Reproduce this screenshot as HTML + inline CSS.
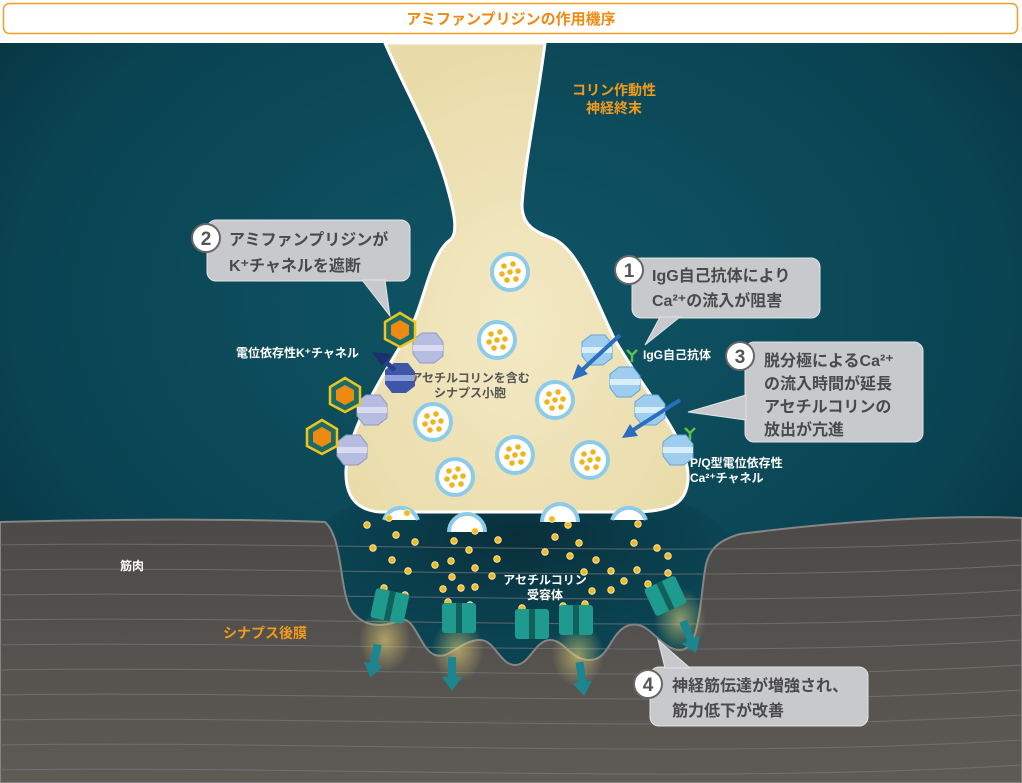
<!DOCTYPE html>
<html><head><meta charset="utf-8"><style>
html,body{margin:0;padding:0;background:#fff;width:1022px;height:783px;overflow:hidden;font-family:"Liberation Sans","Noto Sans CJK JP",sans-serif}
</style></head><body>
<svg width="1022" height="783" viewBox="0 0 1022 783" xmlns="http://www.w3.org/2000/svg" font-family="'Liberation Sans','Noto Sans CJK JP',sans-serif">
<defs>
<radialGradient id="bg" cx="0.5" cy="0.35" r="0.7">
<stop offset="0" stop-color="#0f5566"/><stop offset="0.7" stop-color="#0a4352"/><stop offset="1" stop-color="#062d38"/></radialGradient>
<linearGradient id="mus" x1="0" y1="0" x2="0" y2="1"><stop offset="0" stop-color="#4b4a48"/><stop offset="1" stop-color="#5e5a55"/></linearGradient>
<radialGradient id="cleftg" cx="0.5" cy="0.3" r="0.5"><stop offset="0" stop-color="#082832" stop-opacity="0.8"/><stop offset="1" stop-color="#082832" stop-opacity="0"/></radialGradient>
<radialGradient id="nerve" cx="0.5" cy="0.6" r="0.6"><stop offset="0" stop-color="#f3e9c4"/><stop offset="1" stop-color="#e9dcaa"/></radialGradient>
<radialGradient id="glow"><stop offset="0" stop-color="#f5e27a" stop-opacity="0.55"/><stop offset="1" stop-color="#f5e27a" stop-opacity="0"/></radialGradient>
<g id="ves"><circle r="18" fill="#fff" stroke="#8ccbea" stroke-width="4"/><g fill="#f0b41c"><circle cx="-6" cy="-6" r="2.8"/><circle cx="3" cy="-8" r="2.8"/><circle cx="8" cy="-1" r="2.8"/><circle cx="-8" cy="2" r="2.8"/><circle cx="0" cy="0" r="2.8"/><circle cx="-3" cy="8" r="2.8"/><circle cx="6" cy="7" r="2.8"/></g></g>
<g id="kch"><polygon points="-15,-8 -6,-15 8,-15 15,-6 15,8 6,15 -8,15 -15,6" fill="#b7bde0" stroke="#8f97c8" stroke-width="1"/><rect x="-15" y="-3" width="30" height="6" fill="#d9dcf0"/></g>
<g id="cach"><polygon points="-15,-8 -6,-15 8,-15 15,-6 15,8 6,15 -8,15 -15,6" fill="#9fcdf0" stroke="#5fa5d8" stroke-width="1"/><rect x="-15" y="-3" width="30" height="6" fill="#d8eefb"/></g>
<g id="drug"><polygon points="0,-17 15,-8 15,9 0,17 -15,9 -15,-8" fill="#1a6a6a" stroke="#f0c419" stroke-width="2.5"/><polygon points="0,-10 9,-5 9,5 0,10 -9,5 -9,-5" fill="#ee8a10"/></g>
<g id="rec"><rect x="-17" y="-14" width="34" height="30" rx="3" fill="#1f9a8f"/><rect x="-3" y="-14" width="6" height="30" fill="#12605c"/></g>
<g id="arr"><path d="M-4,-18 L4,-18 L4,2 L10,2 L0,16 L-10,2 L-4,2Z" fill="#1b8690"/></g>
</defs>
<rect x="3.5" y="3.5" width="1014" height="30" rx="6" fill="#fff" stroke="#f0a020" stroke-width="1.5"/>
<text x="511" y="24" text-anchor="middle" font-size="15" font-weight="bold" fill="#ee8a10">アミファンプリジンの作用機序</text>
<rect x="0" y="43" width="1022" height="740" fill="url(#bg)"/>
<ellipse cx="520" cy="580" rx="230" ry="110" fill="url(#cleftg)"/>
<path d="M0,522 C150,518 280,520 325,522 C345,540 338,600 355,615 C370,630 390,625 400,620 C415,615 420,650 435,655 C450,660 460,640 480,640 C495,640 500,665 515,665 C530,665 535,640 550,640 C565,640 570,660 590,660 C610,660 610,630 630,625 C650,620 660,650 680,650 C700,650 700,600 705,570 C708,548 720,540 740,534 C850,520 950,515 1022,518 L1022,783 L0,783Z" fill="url(#mus)" stroke="#858585" stroke-width="2"/>
<g stroke="#7a7a7a" stroke-width="1" fill="none" opacity="0.7">
<path d="M0,545 C300,540 700,560 1022,540"/><path d="M0,570 C300,565 700,585 1022,565"/><path d="M0,595 C300,590 700,610 1022,590"/><path d="M0,620 C300,615 700,635 1022,615"/><path d="M0,645 C300,640 700,660 1022,640"/><path d="M0,670 C300,665 700,685 1022,665"/><path d="M0,695 C300,690 700,710 1022,690"/><path d="M0,720 C300,715 700,735 1022,715"/><path d="M0,745 C300,740 700,760 1022,740"/><path d="M0,770 C300,765 700,785 1022,765"/>
</g>
<path d="M385,43 L545,43 C538,100 525,160 522,205 C522,225 535,232 552,238 C580,250 595,300 615,340 C650,400 690,440 688,480 C686,505 670,510 640,512 L380,512 C355,510 345,495 346,470 C348,430 380,380 410,330 C425,300 430,255 450,240 C458,234 455,215 448,190 C435,140 405,90 385,43Z" fill="url(#nerve)" stroke="#fff" stroke-width="3"/>
<use href="#ves" x="510" y="272"/><use href="#ves" x="497" y="340"/><use href="#ves" x="555" y="400"/><use href="#ves" x="433" y="422"/><use href="#ves" x="515" y="455"/><use href="#ves" x="590" y="460"/><use href="#ves" x="455" y="477"/>
<g fill="#fff" stroke="#8ccbea" stroke-width="4"><path d="M384,520 A18,18 0 0,1 418,520"/><path d="M449,532 A18,18 0 0,1 485,532"/><path d="M542,522 A18,18 0 0,1 578,522"/><path d="M612,520 A18,18 0 0,1 646,520"/></g>
<use href="#kch" x="428" y="348"/><use href="#kch" x="372" y="410"/><use href="#kch" x="352" y="450"/>
<g transform="translate(400,378)"><polygon points="-15,-8 -6,-15 8,-15 15,-6 15,8 6,15 -8,15 -15,6" fill="#3e56a8"/><rect x="-15" y="-3" width="30" height="6" fill="#8fa2dc"/></g>
<path d="M395,370 L384,361" stroke="#2a3e8a" stroke-width="5"/><path d="M372,352 L392,354 L382,366Z" fill="#1e2f70"/>
<use href="#drug" x="400" y="330"/><use href="#drug" x="345" y="395"/><use href="#drug" x="322" y="437"/>
<use href="#cach" x="597" y="350"/><use href="#cach" x="625" y="382"/><use href="#cach" x="650" y="410"/><use href="#cach" x="678" y="450"/>
<path d="M620,335 L580,372" stroke="#2a6ec0" stroke-width="4"/><path d="M572,380 L578,364 L588,374Z" fill="#2a6ec0"/>
<path d="M680,400 L630,432" stroke="#2a6ec0" stroke-width="4"/><path d="M622,438 L630,424 L638,436Z" fill="#2a6ec0"/>
<g stroke="#5bc04a" stroke-width="2.5" fill="none"><path d="M632,362 L632,355 M632,355 L627,350 M632,355 L637,350"/><path d="M690,440 L690,433 M690,433 L685,428 M690,433 L695,428"/></g>
<g fill="#f4b822" stroke="#fff6c0" stroke-width="0.8">
<circle cx="367" cy="525" r="3.3"/><circle cx="389" cy="518" r="3.3"/><circle cx="407" cy="513" r="3.3"/><circle cx="373" cy="548" r="3.3"/><circle cx="396" cy="535" r="3.3"/><circle cx="415" cy="542" r="3.3"/><circle cx="392" cy="560" r="3.3"/><circle cx="408" cy="571" r="3.3"/><circle cx="454" cy="541" r="3.3"/><circle cx="469" cy="550" r="3.3"/><circle cx="435" cy="565" r="3.3"/><circle cx="451" cy="561" r="3.3"/><circle cx="475" cy="568" r="3.3"/><circle cx="452" cy="577" r="3.3"/><circle cx="443" cy="589" r="3.3"/><circle cx="461" cy="588" r="3.3"/><circle cx="475" cy="587" r="3.3"/><circle cx="497" cy="559" r="3.3"/><circle cx="492" cy="576" r="3.3"/><circle cx="475" cy="531" r="3.3"/><circle cx="552" cy="519" r="3.3"/><circle cx="568" cy="525" r="3.3"/><circle cx="555" cy="537" r="3.3"/><circle cx="579" cy="543" r="3.3"/><circle cx="545" cy="552" r="3.3"/><circle cx="570" cy="556" r="3.3"/><circle cx="596" cy="560" r="3.3"/><circle cx="584" cy="572" r="3.3"/><circle cx="592" cy="591" r="3.3"/><circle cx="611" cy="571" r="3.3"/><circle cx="611" cy="590" r="3.3"/><circle cx="624" cy="581" r="3.3"/><circle cx="637" cy="570" r="3.3"/><circle cx="638" cy="524" r="3.3"/><circle cx="634" cy="543" r="3.3"/><circle cx="657" cy="548" r="3.3"/><circle cx="668" cy="556" r="3.3"/><circle cx="384" cy="588" r="3.3"/><circle cx="405" cy="595" r="3.3"/><circle cx="448" cy="602" r="3.3"/><circle cx="470" cy="605" r="3.3"/><circle cx="522" cy="608" r="3.3"/><circle cx="563" cy="606" r="3.3"/><circle cx="585" cy="604" r="3.3"/><circle cx="648" cy="584" r="3.3"/><circle cx="668" cy="573" r="3.3"/><circle cx="498" cy="540" r="3.3"/>
</g>
<g fill="url(#glow)"><ellipse cx="385" cy="640" rx="26" ry="32"/><ellipse cx="458" cy="650" rx="26" ry="32"/><ellipse cx="578" cy="655" rx="26" ry="32"/><ellipse cx="680" cy="620" rx="26" ry="32"/></g>
<g transform="translate(390,605) rotate(12)"><use href="#rec"/></g>
<use href="#rec" x="459" y="617"/><use href="#rec" x="532" y="623"/><use href="#rec" x="576" y="619"/>
<g transform="translate(665,595) rotate(-25)"><use href="#rec"/></g>
<g transform="translate(374,662) rotate(12)"><use href="#arr"/></g>
<g transform="translate(452,675)"><use href="#arr"/></g>
<g transform="translate(582,680) rotate(-8)"><use href="#arr"/></g>
<g transform="translate(690,638) rotate(-22)"><use href="#arr"/></g>
<g font-weight="bold" fill="#f39a1c" font-size="14"><text x="614" y="95" text-anchor="middle">コリン作動性</text><text x="614" y="113" text-anchor="middle">神経終末</text>
<text x="223" y="638">シナプス後膜</text></g>
<g font-weight="bold" fill="#fff" font-size="12">
<text x="236" y="357">電位依存性K⁺チャネル</text>
<text x="643" y="359">IgG自己抗体</text>
<text x="690" y="467">P/Q型電位依存性</text><text x="690" y="482">Ca²⁺チャネル</text>
<text x="120" y="570">筋肉</text>
<text x="545" y="584" text-anchor="middle">アセチルコリン</text><text x="545" y="599" text-anchor="middle">受容体</text>
</g>
<g font-size="12" fill="#555" font-weight="bold"><text x="470" y="382" text-anchor="middle">アセチルコリンを含む</text><text x="470" y="397" text-anchor="middle">シナプス小胞</text></g>
<g fill="#c7c9cc" stroke="#e2e3e5" stroke-width="1">
<rect x="207" y="220" width="203" height="61" rx="9"/><path d="M362,280 L390,316 L385,280Z"/>
<rect x="632" y="258" width="188" height="60" rx="9"/><path d="M660,317 L645,345 L680,317Z"/>
<rect x="745" y="342" width="178" height="100" rx="9"/><path d="M746,395 L688,412 L746,420Z"/>
<rect x="650" y="667" width="218" height="59" rx="9"/><path d="M665,668 L658,640 L690,668Z"/>
</g>
<g fill="#fff" stroke="#666" stroke-width="2"><circle cx="206" cy="238" r="14"/><circle cx="629" cy="270" r="14"/><circle cx="740" cy="356" r="14"/><circle cx="648" cy="684" r="14"/></g>
<g font-weight="bold" font-size="19" fill="#555" text-anchor="middle"><text x="206" y="245">2</text><text x="629" y="277">1</text><text x="740" y="363">3</text><text x="648" y="691">4</text></g>
<g font-weight="bold" font-size="16" fill="#4a4a4a">
<text x="229" y="245">アミファンプリジンが</text><text x="229" y="271">K⁺チャネルを遮断</text>
<text x="652" y="281">IgG自己抗体により</text><text x="652" y="306">Ca²⁺の流入が阻害</text>
<text x="764" y="366">脱分極によるCa²⁺</text><text x="764" y="389">の流入時間が延長</text><text x="764" y="412">アセチルコリンの</text><text x="764" y="435">放出が亢進</text>
<text x="672" y="691">神経筋伝達が増強され、</text><text x="672" y="716">筋力低下が改善</text>
</g>
</svg>
</body></html>
